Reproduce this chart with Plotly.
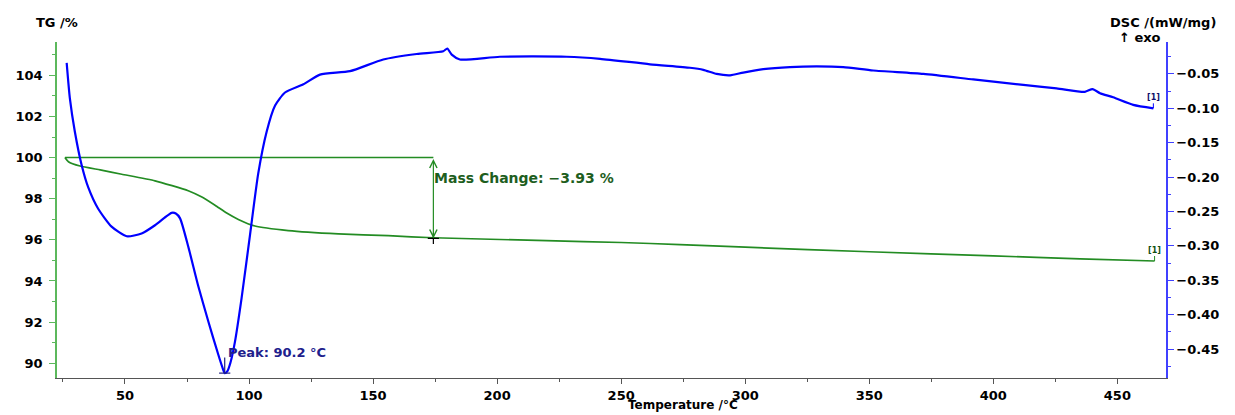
import plotly.graph_objects as go

# ---------------- data ----------------
dsc_T = [26.5, 27.8, 29.8, 32.5, 35.2, 39.2, 44.6, 50.7, 56.7, 62.1, 66.0, 68.8, 70.5, 72.2,
         75.5, 79.5, 83.6, 87.6, 89.2, 90.2, 91.3, 92.5, 94.3, 97.0, 100.4, 103.7, 107.1,
         110.5, 114.5, 121.9, 128.6, 140.7, 154.1, 167.6, 178.3, 179.9, 181.7, 185.0, 201.1,
         228.0, 241.5, 261.6, 277.7, 283.1, 288.5, 293.9, 299.2, 307.3, 318.0, 328.8, 339.5,
         351.6, 371.8, 391.9, 412.1, 425.5, 436.9, 440.0, 443.0, 448.3, 456.4, 464.5]
dsc_val = [-0.034, -0.086, -0.134, -0.182, -0.215, -0.246, -0.272, -0.286, -0.282, -0.270,
           -0.259, -0.252, -0.253, -0.260, -0.301, -0.358, -0.410, -0.458, -0.476, -0.485,
           -0.482, -0.470, -0.440, -0.376, -0.284, -0.195, -0.134, -0.096, -0.077, -0.065,
           -0.051, -0.046, -0.029, -0.021, -0.017, -0.013, -0.022, -0.029, -0.025, -0.025,
           -0.028, -0.036, -0.041, -0.044, -0.050, -0.052, -0.048, -0.043, -0.040, -0.039,
           -0.040, -0.045, -0.050, -0.058, -0.066, -0.071, -0.076, -0.072, -0.078, -0.084,
           -0.095, -0.100]

tg_T = [25.8, 27.2, 31.9, 40.0, 48.7, 62.1, 75.5, 81.0, 86.3, 91.0, 95.7, 102.4, 115.8,
        136.0, 156.1, 174.3, 219.9, 250.0, 273.7, 300.0, 350.0, 400.0, 435.0, 465.0]
tg_val = [100.0, 99.80, 99.59, 99.40, 99.19, 98.87, 98.39, 98.08, 97.68, 97.30, 96.99, 96.67,
          96.45, 96.29, 96.20, 96.10, 95.96, 95.87, 95.77, 95.64, 95.42, 95.22, 95.07, 94.97]

mass_ref_T = [25.8, 174.3]      # reference line start/end temperatures
mass_start = 100.0
mass_change = -3.93
peak_T = 90.2
peak_val = -0.485

tg_ticks = [90, 92, 94, 96, 98, 100, 102, 104]
dsc_ticks = [-0.05, -0.10, -0.15, -0.20, -0.25, -0.30, -0.35, -0.40, -0.45]
dsc_ticktext = ["\u2212%.2f" % abs(v) for v in dsc_ticks]
x_ticks = [50, 100, 150, 200, 250, 300, 350, 400, 450]

# ---------------- style ----------------
FONT = "DejaVu Sans"
BLUE = "#0000ff"
GREEN = "#238c23"
AX_GREEN = "#5cb85c"
AX_BLUE = "#4040ff"

fig = go.Figure()

fig.add_trace(go.Scatter(x=dsc_T, y=dsc_val, yaxis="y2", mode="lines",
                         line=dict(color=BLUE, width=2.2, shape="spline", smoothing=0.6),
                         hoverinfo="skip"))
fig.add_trace(go.Scatter(x=tg_T, y=tg_val, yaxis="y", mode="lines",
                         line=dict(color=GREEN, width=1.7, shape="spline", smoothing=0.5),
                         hoverinfo="skip"))
# horizontal reference line for mass change
fig.add_trace(go.Scatter(x=mass_ref_T, y=[mass_start, mass_start], yaxis="y", mode="lines",
                         line=dict(color=GREEN, width=1.4), hoverinfo="skip"))
# crosshair at mass-change end point
mc_end = mass_start + mass_change
fig.add_trace(go.Scatter(x=[mass_ref_T[1]], y=[mc_end], yaxis="y", mode="markers",
                         marker=dict(symbol="cross-thin", size=8,
                                     line=dict(color="black", width=1.2)),
                         hoverinfo="skip"))
# peak crosshair
fig.add_trace(go.Scatter(x=[peak_T], y=[peak_val], yaxis="y2", mode="markers",
                         marker=dict(symbol="line-ew", size=8,
                                     line=dict(color="#202080", width=1.2)),
                         hoverinfo="skip"))

bold = dict(family=FONT, size=13, color="black", weight="bold")

fig.update_layout(
    width=1235, height=415,
    margin=dict(l=57, r=69, t=42, b=31),
    paper_bgcolor="white", plot_bgcolor="white",
    showlegend=False,
    xaxis=dict(range=[22.6, 469.6], tickmode="array", tickvals=x_ticks,
               ticks="outside", ticklen=5, tickcolor="#555555", tickwidth=1,
               showline=True, linecolor="#555555", linewidth=1.2,
               showgrid=False, zeroline=False, tickfont=bold, ticklabelstandoff=0,
               minor=dict(dtick=25, tick0=0, ticks="outside", ticklen=3, tickcolor="#555555")),
    yaxis=dict(range=[89.28, 105.62], tickmode="array", tickvals=tg_ticks,
               ticks="outside", ticklen=6, tickcolor=AX_GREEN, tickwidth=1,
               showline=True, linecolor=AX_GREEN, linewidth=1.5,
               showgrid=False, zeroline=False, tickfont=bold, ticklabelstandoff=4,
               minor=dict(dtick=1, tick0=0, ticks="outside", ticklen=3, tickcolor=AX_GREEN)),
    yaxis2=dict(range=[-0.4921, -0.00357], overlaying="y", side="right",
                tickmode="array", tickvals=dsc_ticks, ticktext=dsc_ticktext,
                ticks="outside", ticklen=6, tickcolor=AX_BLUE, tickwidth=1,
                showline=True, linecolor=AX_BLUE, linewidth=1.5,
                showgrid=False, zeroline=False, tickfont=bold,
                minor=dict(dtick=0.05, tick0=-0.025, ticks="outside", ticklen=3,
                           tickcolor=AX_BLUE)),
)

title_font = dict(family=FONT, size=13, color="black", weight="bold")
fig.add_annotation(text="TG /%", xref="paper", yref="paper", x=0.0, y=1.0585,
                   xanchor="center", yanchor="middle", showarrow=False, font=title_font)
fig.add_annotation(text="DSC /(mW/mg)", xref="paper", yref="paper", x=0.9973, y=1.0585,
                   xanchor="center", yanchor="middle", showarrow=False, font=title_font)
fig.add_annotation(text="\u2191 exo", xref="paper", yref="paper", x=0.9766, y=1.0146,
                   xanchor="center", yanchor="middle", showarrow=False, font=title_font)
fig.add_annotation(text="Temperature /\u00b0C", xref="paper", yref="paper", x=0.5645,
                   y=-0.0555, xanchor="center", yanchor="top", showarrow=False,
                   borderpad=0, font=dict(family=FONT, size=12, color="black", weight="bold"))

# mass change double arrow
fig.add_annotation(x=mass_ref_T[1], y=mc_end, ax=mass_ref_T[1], ay=mass_start,
                   xref="x", yref="y", axref="x", ayref="y", text="", showarrow=True,
                   arrowhead=5, startarrowhead=5, arrowside="end+start", arrowsize=1.2,
                   arrowwidth=1.2, arrowcolor=GREEN)
fig.add_annotation(x=mass_ref_T[1], y=99.03, xref="x", yref="y",
                   text="Mass Change: \u22123.93 %", showarrow=False, xanchor="left",
                   yanchor="middle", xshift=-1,
                   font=dict(family=FONT, size=14, color="#1e5e1e", weight="bold"))

# peak annotation
fig.add_annotation(x=peak_T, y=peak_val, xref="x", yref="y2", ax=0, ay=-17,
                   text="", showarrow=True, arrowhead=0, arrowwidth=1.2,
                   arrowcolor="#202080")
fig.add_annotation(x=peak_T, y=peak_val, xref="x", yref="y2", text="Peak: 90.2 \u00b0C",
                   showarrow=False, xanchor="left", yanchor="middle", xshift=1, yshift=21,
                   font=dict(family=FONT, size=13, color="#20208c", weight="bold"))

# end markers [1]
fig.add_annotation(x=dsc_T[-1], y=dsc_val[-1], xref="x", yref="y2", ax=0, ay=-11,
                   text="[1]", showarrow=True, arrowhead=0, arrowwidth=1, arrowcolor=BLUE,
                   font=dict(family=FONT, size=8, color="#10106a", weight="bold"))
fig.add_annotation(x=tg_T[-1], y=tg_val[-1], xref="x", yref="y", ax=0, ay=-11,
                   text="[1]", showarrow=True, arrowhead=0, arrowwidth=1, arrowcolor=GREEN,
                   font=dict(family=FONT, size=8, color="#105010", weight="bold"))

fig.write_html("out.html")
